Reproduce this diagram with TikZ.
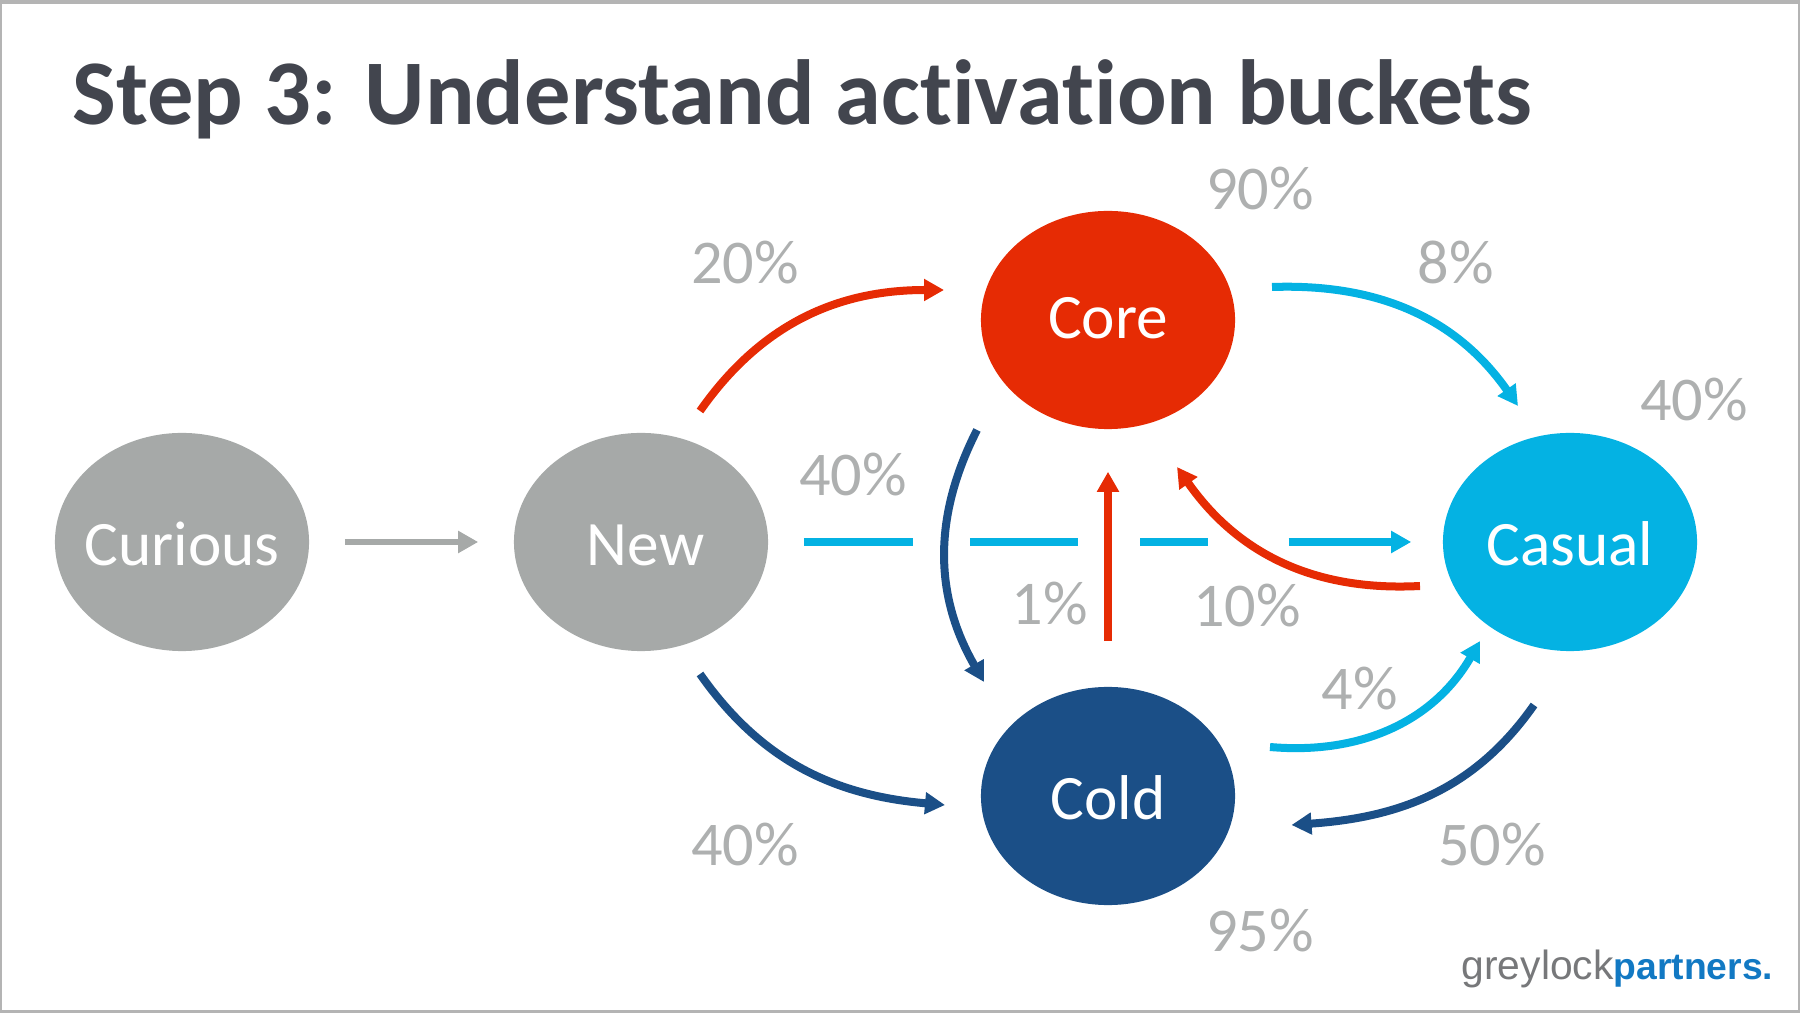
\documentclass[tikz,border=0pt]{standalone}
\usepackage{fontspec}
\setmainfont{Carlito}[Ligatures=NoCommon]
\newfontfamily\logofont{Liberation Sans}
\usetikzlibrary{shapes.geometric,arrows.meta}
\definecolor{corered}{HTML}{E62B04}
\definecolor{coldblue}{HTML}{1B4F87}
\definecolor{casualblue}{HTML}{04B2E3}
\definecolor{newgray}{HTML}{A6A9A8}
\definecolor{pctgray}{HTML}{AEB0B0}
\definecolor{titlegray}{HTML}{42454E}
\definecolor{framegray}{HTML}{B4B4B4}
\definecolor{logogray}{HTML}{77787A}
\definecolor{logoblue}{HTML}{1279C3}
\tikzset{
  bucket/.style={ellipse,minimum width=2.54cm,minimum height=2.18cm,inner sep=-0.4cm,text=white,text height=0.47cm,text depth=0pt,font=\fontsize{18}{22}\selectfont},
  pct/.style={text=pctgray,inner sep=0pt,font=\fontsize{17.7}{22}\selectfont},
  flow/.style={line width=0.08cm,-{Triangle[length=0.2cm,width=0.21cm]}}
}
\begin{document}
\begin{tikzpicture}[x=0.01cm,y=0.01cm]
  \useasboundingbox (0,0) rectangle (1800,1012);
  \draw[framegray,line width=0.04cm] (0,0) rectangle (1800,1012);
  \fill[framegray] (0,1008) rectangle (1800,1012);
  \node[anchor=base west,inner sep=0pt,text=titlegray,font=\fontsize{26.3}{30}\selectfont\bfseries] (title) at (72,887) {Step 3: Understand activation buckets};

  \node[bucket,fill=newgray] (Curious) at (182,470) {Curious};
  \node[bucket,fill=newgray] (New) at (641,470) {\hspace*{0.09cm}New};
  \node[bucket,fill=corered,text height=0.36cm] (Core) at (1108,692) {Core};
  \node[bucket,fill=casualblue] (Casual) at (1570,470) {Casual};
  \node[bucket,fill=coldblue] (Cold) at (1108,216) {Cold};

  \draw[flow,newgray,line width=0.06cm,shorten <=0.35cm,shorten >=0.35cm] (Curious) -- (New);
  \draw[flow,casualblue,shorten <=0.35cm,shorten >=0.31cm,
    dash pattern=on 1.09cm off 0.57cm on 1.08cm off 0.62cm on 0.68cm off 0.805cm on 1.3cm] (New) -- (Casual);
  \draw[flow,corered,shorten <=0.45cm,shorten >=0.42cm] (Cold) -- (Core);

  \draw[flow,corered] ([shift={(59,131)}]New.center) to[out=55,in=180] ([shift={(-164,30)}]Core.center);
  \draw[flow,coldblue] ([shift={(59,-132)}]New.center) to[out=-55,in=175] ([shift={(-163,-9)}]Cold.center);
  \draw[flow,casualblue] ([shift={(164,33)}]Core.center) to[out=2,in=125] ([shift={(-52,136)}]Casual.center);
  \draw[flow,corered] ([shift={(-150,-44)}]Casual.center) to[out=183,in=-55] ([shift={(69,-147)}]Core.center);
  \draw[flow,casualblue] ([shift={(162,49)}]Cold.center) to[out=-5,in=-120] ([shift={(-90,-99)}]Casual.center);
  \draw[flow,coldblue] ([shift={(-36,-163)}]Casual.center) to[out=235,in=4] ([shift={(183.5,-29)}]Cold.center);
  \draw[flow,coldblue] ([shift={(-131,-110)}]Core.center) to[out=243,in=120] ([shift={(-124,114)}]Cold.center);

  \foreach \n/\x/\y/\t in {a/1260/823/90,b/745/749/20,c/1456/749/8,d/1694/612/40,e/853/537/40,f/1050/408/1,g/1247/406/10,h/1360/323/4,i/745/167/40,j/1492/167/50,k/1260/81/95}
    \node[pct] (pct\n) at (\x,\y) {\t\%};

  \node[anchor=base west,inner sep=0pt,text=logogray,font=\logofont\fontsize{11.6}{14}\selectfont] (logo) at (1461,33) {greylock\textcolor{logoblue}{\fontsize{10.6}{14}\selectfont\bfseries partners.}};
\end{tikzpicture}
\end{document}
